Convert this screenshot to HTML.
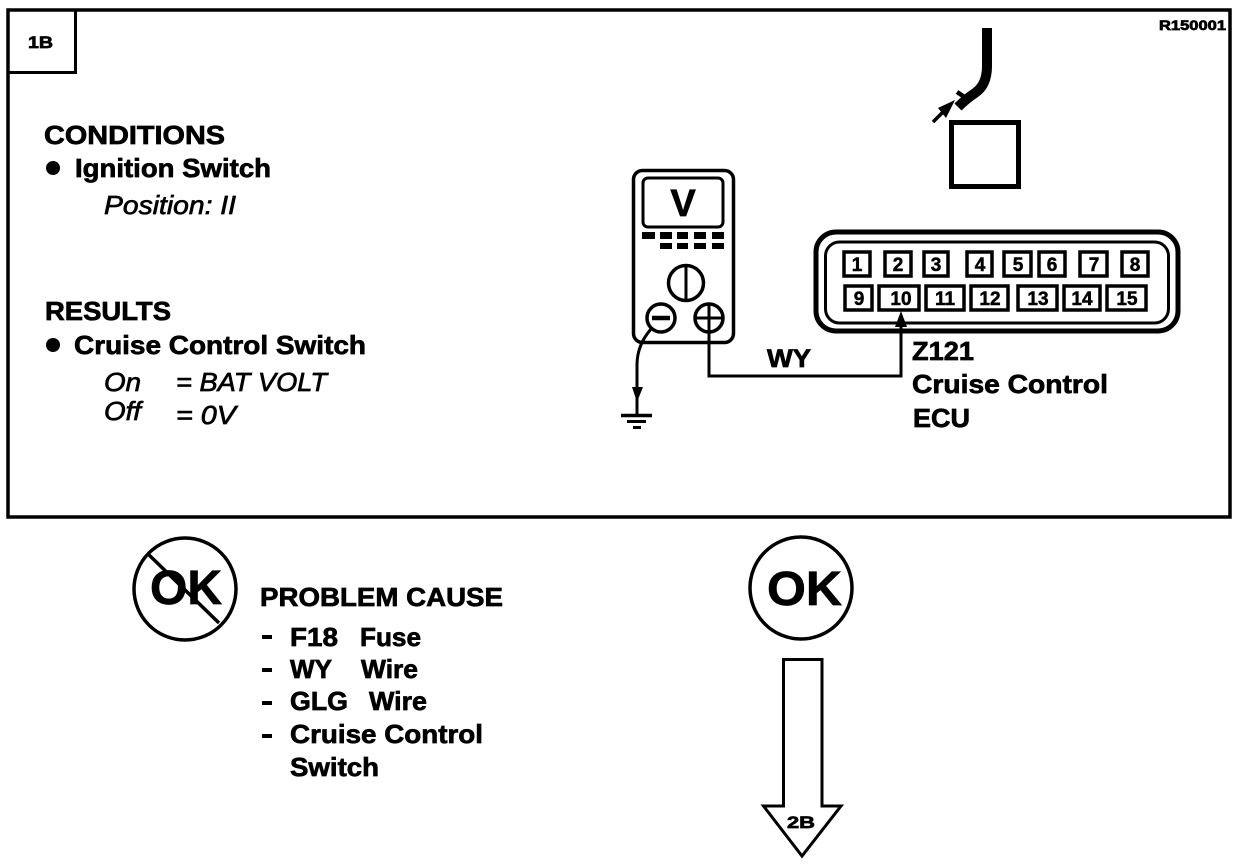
<!DOCTYPE html>
<html lang="en"><head><meta charset="utf-8"><title>1B Cruise Control Check</title>
<style>
html,body{margin:0;padding:0;background:#fff;width:1248px;height:864px;overflow:hidden}
svg{display:block}
text{font-family:"Liberation Sans",Arial,sans-serif;fill:#000;font-weight:bold;stroke:#000;stroke-width:.7px}
.i{font-size:26px;font-style:italic;font-weight:normal;stroke-width:.7px}
.p{text-anchor:middle;font-size:19px;stroke-width:.5px}
</style></head><body>
<svg width="1248" height="864" viewBox="0 0 1248 864" xmlns="http://www.w3.org/2000/svg">
<rect width="1248" height="864" fill="#fff"/>
<g fill="none" stroke="#000">
<rect x="8" y="10" width="1222" height="507" stroke-width="3.5"/>
<path d="M8 72.5H75.5V10" stroke-width="3"/>
<!-- top wire -->
<path d="M987 28V66Q987 85 975 93Q966 99 958 107" stroke-width="10"/>
<path d="M957 92L966 98" stroke-width="4.500"/>
<path d="M933 122L947 108" stroke-width="3.500"/>
<rect x="951.5" y="122.5" width="67" height="64" stroke-width="5"/>
<!-- meter -->
<rect x="633.5" y="170.5" width="100" height="172" rx="9" stroke-width="3.5"/>
<rect x="643" y="178" width="80" height="49" rx="5" stroke-width="3"/>
<circle cx="686" cy="283" r="17.5" stroke-width="3.5"/>
<path d="M686 265V301" stroke-width="3"/>
<circle cx="661" cy="318" r="14" stroke-width="3.5"/>
<path d="M652 318H670" stroke-width="4.500"/>
<circle cx="709" cy="318" r="14" stroke-width="3.5"/>
<path d="M695 318H723M709 304V376H901V320" stroke-width="3"/>
<path d="M651 329Q637 345 637 365V415" stroke-width="3"/>
<path d="M621 415.5H652" stroke-width="3.5"/>
<path d="M627 421.5H646" stroke-width="3"/>
<path d="M633 427.5H641" stroke-width="3"/>
<!-- connector -->
<rect x="816" y="232" width="362" height="99" rx="20" stroke-width="5"/>
<rect x="825.5" y="242" width="343" height="81" rx="14" stroke-width="3"/>
<g stroke-width="3.500">
<rect x="844" y="252" width="26" height="24"/>
<rect x="885" y="252" width="26" height="24"/>
<rect x="924" y="252" width="24" height="24"/>
<rect x="967" y="252" width="25" height="24"/>
<rect x="1004" y="252" width="27" height="24"/>
<rect x="1039" y="252" width="26" height="24"/>
<rect x="1080" y="252" width="27" height="24"/>
<rect x="1122" y="252" width="26" height="24"/>
<rect x="845" y="286" width="27" height="24"/>
<rect x="879" y="286" width="40" height="24"/>
<rect x="926" y="286" width="38" height="24"/>
<rect x="971" y="286" width="37" height="24"/>
<rect x="1018" y="286" width="39" height="24"/>
<rect x="1064" y="286" width="36" height="24"/>
<rect x="1107" y="286" width="39" height="24"/>
</g>
<!-- OK circles -->
<circle cx="185" cy="589" r="51" stroke-width="3.5"/>
<circle cx="801" cy="588" r="51" stroke-width="3.5"/>
<!-- down arrow -->
<path d="M783.5 659.5H822V806H841L802 856L763.500 806H783.500Z" stroke-width="3"/>
</g>
<g fill="#000">
<path d="M955 100L938 108L946 118Z"/>
<path d="M637 402L632 387H643Z"/>
<path d="M901 311L895 327H907Z"/>
<circle cx="53" cy="168" r="7"/>
<circle cx="53" cy="345" r="7"/>
<rect x="642" y="232" width="13" height="7"/><rect x="660" y="232" width="12" height="7"/><rect x="677" y="232" width="11" height="7"/><rect x="694" y="232" width="12" height="7"/><rect x="712" y="232" width="12" height="7"/>
<rect x="660" y="243" width="12" height="6"/><rect x="677" y="243" width="11" height="6"/><rect x="694" y="243" width="12" height="6"/><rect x="712" y="243" width="12" height="6"/>
<rect x="262" y="635" width="10" height="4"/><rect x="262" y="668" width="10" height="4"/><rect x="262" y="701" width="10" height="4"/><rect x="262" y="734" width="10" height="4"/>
</g>
<path d="M147 553L219 623" stroke="#000" stroke-width="3.500" fill="none"/>
<!-- labels -->
<text x="28" y="48" font-size="17" textLength="25" lengthAdjust="spacingAndGlyphs">1B</text>
<text x="1159" y="30" font-size="14" textLength="67" lengthAdjust="spacingAndGlyphs">R150001</text>
<text x="44" y="144" font-size="26" textLength="181" lengthAdjust="spacingAndGlyphs">CONDITIONS</text>
<text x="75" y="177" font-size="26" textLength="196" lengthAdjust="spacingAndGlyphs">Ignition Switch</text>
<text x="104" y="214" class="i" textLength="132" lengthAdjust="spacingAndGlyphs">Position: II</text>
<text x="45" y="320" font-size="26" textLength="126" lengthAdjust="spacingAndGlyphs">RESULTS</text>
<text x="74" y="354" font-size="26" textLength="292" lengthAdjust="spacingAndGlyphs">Cruise Control Switch</text>
<text x="104" y="391" class="i" textLength="37" lengthAdjust="spacingAndGlyphs">On</text>
<text x="176" y="391" class="i" textLength="151" lengthAdjust="spacingAndGlyphs">= BAT VOLT</text>
<text x="104" y="420" class="i" textLength="37" lengthAdjust="spacingAndGlyphs">Off</text>
<text x="176" y="424" class="i" textLength="60" lengthAdjust="spacingAndGlyphs">= 0V</text>
<text x="683" y="216" font-size="38" text-anchor="middle">V</text>
<text x="767" y="367" font-size="25" textLength="44" lengthAdjust="spacingAndGlyphs">WY</text>
<text x="912" y="360" font-size="26" textLength="62" lengthAdjust="spacingAndGlyphs">Z121</text>
<text x="912" y="393" font-size="26" textLength="196" lengthAdjust="spacingAndGlyphs">Cruise Control</text>
<text x="913" y="427" font-size="26" textLength="57" lengthAdjust="spacingAndGlyphs">ECU</text>
<text class="p" x="857" y="271">1</text>
<text class="p" x="898" y="271">2</text>
<text class="p" x="936" y="271">3</text>
<text class="p" x="980" y="271">4</text>
<text class="p" x="1018" y="271">5</text>
<text class="p" x="1052" y="271">6</text>
<text class="p" x="1094" y="271">7</text>
<text class="p" x="1135" y="271">8</text>
<text class="p" x="859" y="305">9</text>
<text class="p" x="901" y="305">10</text>
<text class="p" x="945" y="305">11</text>
<text class="p" x="990" y="305">12</text>
<text class="p" x="1038" y="305">13</text>
<text class="p" x="1082" y="305">14</text>
<text class="p" x="1127" y="305">15</text>
<text x="150" y="604" font-size="48" textLength="72" lengthAdjust="spacingAndGlyphs">OK</text>
<text x="767" y="605" font-size="48" textLength="75" lengthAdjust="spacingAndGlyphs">OK</text>
<text x="787" y="828" font-size="17" textLength="28" lengthAdjust="spacingAndGlyphs">2B</text>
<text x="260" y="606" font-size="26" textLength="243" lengthAdjust="spacingAndGlyphs">PROBLEM CAUSE</text>
<text x="290" y="646" font-size="26" textLength="48" lengthAdjust="spacingAndGlyphs">F18</text>
<text x="360" y="646" font-size="26" textLength="61" lengthAdjust="spacingAndGlyphs">Fuse</text>
<text x="290" y="678" font-size="26" textLength="42" lengthAdjust="spacingAndGlyphs">WY</text>
<text x="361" y="678" font-size="26" textLength="57" lengthAdjust="spacingAndGlyphs">Wire</text>
<text x="290" y="710" font-size="26" textLength="58" lengthAdjust="spacingAndGlyphs">GLG</text>
<text x="369" y="710" font-size="26" textLength="58" lengthAdjust="spacingAndGlyphs">Wire</text>
<text x="290" y="743" font-size="26" textLength="193" lengthAdjust="spacingAndGlyphs">Cruise Control</text>
<text x="290" y="776" font-size="26" textLength="89" lengthAdjust="spacingAndGlyphs">Switch</text>
</svg>
</body></html>
